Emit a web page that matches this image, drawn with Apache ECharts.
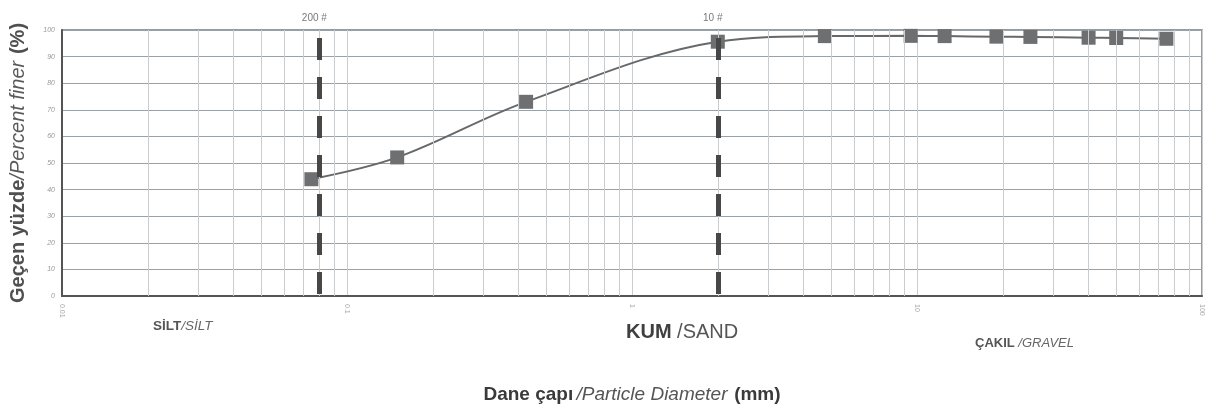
<!DOCTYPE html>
<html>
<head>
<meta charset="utf-8">
<script src="https://cdn.jsdelivr.net/npm/echarts@6/dist/echarts.min.js"></script>
<style>
  html, body { margin: 0; padding: 0; background: #fff; }
  #chart { width: 1209px; height: 412px; }
</style>
</head>
<body>
<div id="chart"></div>
<script>
// Sieve analysis: particle diameter (mm) vs percent finer
const diameters = [0.075, 0.15, 0.425, 2, 4.75, 9.5, 12.5, 19, 25, 40, 50, 75];
const percentFiner = [43.9, 52.1, 73.0, 95.6, 97.7, 97.8, 97.7, 97.5, 97.4, 97.1, 97.0, 96.7];

// Reference sieve lines
const sieveNames = ['200 #', '10 #'];
const sieveSizes = [0.08, 2];
const sieveTop = 97;

// Axis tick labels
const xTickLabels = ['0.01', '0.1', '1', '10', '100'];
const yTicks = [0, 10, 20, 30, 40, 50, 60, 70, 80, 90, 100];

// Soil class captions
const classSilt = ['SİLT', '/SİLT'];
const classSand = ['KUM', ' /SAND'];
const classGravel = ['ÇAKIL', ' /GRAVEL'];

// Intermediate log grid lines (2..9 within each decade)
const minorGrid = [];
for (let e = -2; e < 2; e++) {
  for (let m = 2; m <= 9; m++) minorGrid.push(+(m * Math.pow(10, e)).toPrecision(3));
}

const FONT = '"Liberation Sans", Arial, sans-serif';
const chart = echarts.init(document.getElementById('chart'));

const points = diameters.map((d, i) => [d, percentFiner[i]]);

chart.setOption({
  backgroundColor: '#ffffff',
  animation: false,
  grid: {
    left: 62, right: 7, top: 30, bottom: 116,
    show: true, borderColor: '#7a7a7a', borderWidth: 1.5
  },
  xAxis: {
    type: 'log', logBase: 10, min: 0.01, max: 100,
    name: '{b|Dane çapı} {i|/Particle Diameter}  {b|(mm)}',
    nameLocation: 'middle', nameGap: 89,
    nameTextStyle: {
      rich: {
        b: { fontFamily: FONT, fontSize: 19, fontWeight: 'bold', color: '#3a3a3a' },
        i: { fontFamily: FONT, fontSize: 19, fontStyle: 'italic', color: '#555' }
      }
    },
    axisLine: { show: true, lineStyle: { color: '#555', width: 2 } },
    axisTick: { show: false },
    axisLabel: {
      rotate: -90, margin: 8, fontSize: 7, color: '#aaa', fontFamily: FONT,
      formatter: (v, i) => xTickLabels[i] !== undefined ? xTickLabels[i] : ''
    },
    splitLine: { show: true, lineStyle: { color: '#c9cdd0', width: 1 } }
  },
  yAxis: {
    type: 'value', min: 0, max: 100, interval: 10,
    name: '{b|Geçen yüzde}{i|/Percent finer}  {b|(%)}',
    nameLocation: 'middle', nameGap: 34, nameRotate: 90,
    nameTextStyle: {
      rich: {
        b: { fontFamily: FONT, fontSize: 20, fontWeight: 'bold', color: '#505050' },
        i: { fontFamily: FONT, fontSize: 20, fontStyle: 'italic', color: '#5a5a5a' }
      }
    },
    axisLine: { show: true, lineStyle: { color: '#555', width: 2 } },
    axisTick: { show: false },
    axisLabel: {
      margin: 7, fontSize: 7, fontStyle: 'italic', color: '#999', fontFamily: FONT,
      formatter: v => yTicks.includes(v) ? String(v) : ''
    },
    splitLine: { show: true, lineStyle: { color: '#9aa0a4', width: 1 } }
  },
  series: [
    {
      // minor log grid
      type: 'line', data: [], z: 1, silent: true,
      markLine: {
        silent: true, symbol: 'none', label: { show: false },
        lineStyle: { color: '#c9cdd0', width: 1, type: 'solid' },
        data: minorGrid.map(v => ({ xAxis: v }))
      }
    },
    {
      // sieve reference lines
      type: 'scatter', z: 2, silent: true,
      data: sieveSizes.map((d, i) => ({ value: [d, 100], name: sieveNames[i] })),
      symbolSize: 0,
      label: {
        show: true, position: 'top', distance: 7, offset: [-5, 0],
        formatter: p => p.name, fontSize: 10, color: '#555', fontFamily: FONT
      },
      markLine: {
        silent: true, symbol: 'none', label: { show: false },
        lineStyle: { color: '#474747', width: 5, type: [22, 17] },
        data: sieveSizes.map(d => [{ coord: [d, sieveTop] }, { coord: [d, 0] }])
      }
    },
    {
      type: 'line', z: 3,
      data: points,
      smooth: 0.35,
      symbol: 'rect', symbolSize: 14,
      itemStyle: { color: '#6d6f71' },
      lineStyle: { color: '#666869', width: 2 }
    }
  ],
  graphic: [
    {
      type: 'text', left: 153, top: 319,
      style: {
        text: '{b|' + classSilt[0] + '}{i|' + classSilt[1] + '}',
        rich: {
          b: { fontFamily: FONT, fontSize: 13.5, fontWeight: 'bold', fill: '#555' },
          i: { fontFamily: FONT, fontSize: 13.5, fontStyle: 'italic', fill: '#666' }
        }
      }
    },
    {
      type: 'text', left: 626, top: 322,
      style: {
        text: '{b|' + classSand[0] + '}{i|' + classSand[1] + '}',
        rich: {
          b: { fontFamily: FONT, fontSize: 20, fontWeight: 'bold', fill: '#3f3f3f' },
          i: { fontFamily: FONT, fontSize: 20, fill: '#555' }
        }
      }
    },
    {
      type: 'text', left: 975, top: 337,
      style: {
        text: '{b|' + classGravel[0] + '}{i|' + classGravel[1] + '}',
        rich: {
          b: { fontFamily: FONT, fontSize: 13, fontWeight: 'bold', fill: '#555' },
          i: { fontFamily: FONT, fontSize: 13, fontStyle: 'italic', fill: '#666' }
        }
      }
    }
  ]
});
</script>
</body>
</html>
